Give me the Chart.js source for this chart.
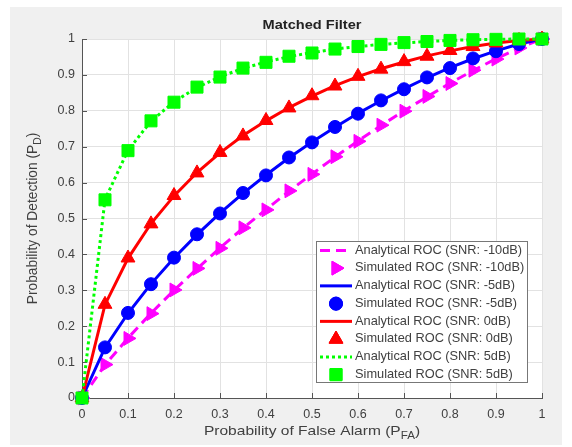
<!DOCTYPE html>
<html><head><meta charset="utf-8">
<script src="https://cdn.jsdelivr.net/npm/chart.js@4/dist/chart.umd.min.js"></script>
<style>html,body{margin:0;padding:0;background:#fff}</style>
</head><body>
<canvas id="c" width="572" height="447" style="display:block;width:572px;height:447px"></canvas>
<script>
// ---- data ----
const pfa = [0,0.05,0.1,0.15,0.2,0.25,0.3,0.35,0.4,0.45,0.5,0.55,0.6,0.65,0.7,0.75,0.8,0.85,0.9,0.95,1];
const anaM10 = [0,0.092,0.167,0.236,0.300,0.360,0.418,0.473,0.525,0.576,0.624,0.671,0.716,0.759,0.800,0.839,0.877,0.912,0.945,0.975,1];
const simM10 = [0,0.093,0.166,0.235,0.301,0.361,0.417,0.474,0.524,0.577,0.623,0.672,0.715,0.760,0.799,0.840,0.876,0.913,0.944,0.975,1];
const anaM5  = [0,0.140,0.236,0.318,0.390,0.455,0.515,0.570,0.621,0.669,0.713,0.754,0.793,0.828,0.861,0.892,0.920,0.945,0.967,0.986,1];
const simM5  = [0,0.141,0.237,0.317,0.391,0.456,0.514,0.571,0.620,0.670,0.712,0.755,0.792,0.829,0.860,0.893,0.919,0.946,0.966,0.986,1];
const ana0   = [0,0.260,0.389,0.486,0.563,0.628,0.683,0.731,0.772,0.809,0.841,0.870,0.895,0.917,0.936,0.953,0.967,0.979,0.989,0.996,1];
const sim0   = [0,0.261,0.390,0.485,0.564,0.627,0.684,0.730,0.773,0.808,0.842,0.869,0.896,0.916,0.937,0.952,0.968,0.979,0.989,0.996,1];
const ana5   = [0,0.553,0.690,0.771,0.825,0.865,0.895,0.918,0.936,0.951,0.962,0.972,0.979,0.985,0.989,0.993,0.996,0.998,0.999,1.000,1];
const sim5   = [0,0.552,0.689,0.772,0.824,0.866,0.894,0.919,0.935,0.952,0.961,0.972,0.979,0.985,0.990,0.993,0.996,0.998,0.999,1.000,1];
const xTicks = [0,0.1,0.2,0.3,0.4,0.5,0.6,0.7,0.8,0.9,1];
const yTicks = [0,0.1,0.2,0.3,0.4,0.5,0.6,0.7,0.8,0.9,1];
const labels = [
  'Analytical ROC (SNR: -10dB)','Simulated ROC (SNR: -10dB)',
  'Analytical ROC (SNR: -5dB)','Simulated ROC (SNR: -5dB)',
  'Analytical ROC (SNR: 0dB)','Simulated ROC (SNR: 0dB)',
  'Analytical ROC (SNR: 5dB)','Simulated ROC (SNR: 5dB)'
];
const titleText = 'Matched Filter';

// ---- styles ----
const FONT = "'Liberation Sans', Arial, Helvetica, sans-serif";
const TXT = '#404040';
const series = [
  {y: anaM10, color:'#ff00ff', line:true, dash:[10,6]},
  {y: simM10, color:'#ff00ff', line:false, style:'triangle', rot:90, r:8},
  {y: anaM5,  color:'#0000ff', line:true, dash:[]},
  {y: simM5,  color:'#0000ff', line:false, style:'circle', rot:0, r:6.5},
  {y: ana0,   color:'#ff0000', line:true, dash:[]},
  {y: sim0,   color:'#ff0000', line:false, style:'triangle', rot:0, r:8},
  {y: ana5,   color:'#00ff00', line:true, dash:[3,3]},
  {y: sim5,   color:'#00ff00', line:false, style:'rect', rot:0, r:8.5}
];
const datasets = series.map((s,i)=>({
  label: labels[i],
  data: pfa.map((x,j)=>({x:x, y:s.y[j]})),
  showLine: s.line,
  borderColor: s.color,
  backgroundColor: s.color,
  borderWidth: s.line ? 3 : 1,
  borderDash: s.dash || [],
  borderCapStyle: 'butt',
  pointRadius: s.line ? 0 : s.r,
  pointHoverRadius: s.line ? 0 : s.r,
  pointStyle: s.style || 'circle',
  pointRotation: s.rot || 0,
  pointBorderWidth: 1,
  pointBorderColor: s.color,
  pointBackgroundColor: s.color,
  tension: 0,
  clip: false,
  order: series.length - i
}));

function drawMarker(ctx, style, rot, r, x, y, color){
  ctx.save();
  ctx.fillStyle = color; ctx.strokeStyle = color; ctx.lineWidth = 1;
  if (Chart.helpers && Chart.helpers.drawPoint) {
    Chart.helpers.drawPoint(ctx, {pointStyle: style, rotation: rot, radius: r, borderWidth: 1}, x, y);
    ctx.fill(); ctx.stroke();
  }
  ctx.restore();
}

function drawSubText(ctx, parts, cx, cy, size, sx){
  sx = sx || 1;
  ctx.save();
  ctx.translate(cx, cy);
  ctx.scale(sx, 1);
  let w = 0;
  parts.forEach(p=>{ ctx.font = (p.sub? size*0.75 : size)+'px '+FONT; p.w = ctx.measureText(p.t).width; w += p.w; });
  let x = -w/2;
  ctx.textBaseline = 'middle'; ctx.textAlign = 'left'; ctx.fillStyle = TXT;
  parts.forEach(p=>{ ctx.font = (p.sub? size*0.75 : size)+'px '+FONT; ctx.fillText(p.t, x, (p.sub? size*0.38 : 0)); x += p.w; });
  ctx.restore();
}

const fmt = v => String(Math.round(v*10)/10);

const deco = {
  id: 'deco',
  beforeDraw(chart){
    const ctx = chart.ctx, a = chart.chartArea;
    ctx.save();
    ctx.fillStyle = '#ffffff'; ctx.fillRect(0,0,chart.width,chart.height);
    ctx.fillStyle = '#f0f0f0'; ctx.fillRect(10,7,552,438);
    ctx.fillStyle = '#ffffff'; ctx.fillRect(a.left, a.top, a.right-a.left, a.bottom-a.top);
    ctx.restore();
  },
  beforeDatasetsDraw(chart){
    const ctx = chart.ctx, a = chart.chartArea, xs = chart.scales.x, ys = chart.scales.y;
    ctx.save();
    ctx.strokeStyle = '#555'; ctx.lineWidth = 1;
    xTicks.forEach(v=>{ const px = Math.round(xs.getPixelForValue(v))+0.5; ctx.beginPath(); ctx.moveTo(px, a.bottom); ctx.lineTo(px, a.bottom-5); ctx.stroke(); });
    yTicks.forEach(v=>{ const py = Math.round(ys.getPixelForValue(v))+0.5; ctx.beginPath(); ctx.moveTo(a.left, py); ctx.lineTo(a.left+5, py); ctx.stroke(); });
    ctx.restore();
  },
  afterDraw(chart){
    const ctx = chart.ctx, a = chart.chartArea;
    ctx.save();
    // title
    ctx.save();
    ctx.translate((a.left+a.right)/2, 25);
    ctx.scale(1.08, 1);
    ctx.font = 'bold 13.5px '+FONT; ctx.fillStyle = '#222'; ctx.textAlign = 'center'; ctx.textBaseline = 'middle';
    ctx.fillText(titleText, 0, 0);
    ctx.restore();
    // x title
    drawSubText(ctx, [{t:'Probability of False Alarm (P'},{t:'FA',sub:true},{t:')'}], (a.left+a.right)/2, 431, 13.5, 1.15);
    // y title
    ctx.save();
    ctx.translate(33, (a.top+a.bottom)/2);
    ctx.rotate(-Math.PI/2);
    drawSubText(ctx, [{t:'Probability of Detection (P'},{t:'D',sub:true},{t:')'}], 0, 0, 13.8, 1);
    ctx.restore();
    // legend
    const L = 316, T = 241, R = 528, B = 383;
    ctx.fillStyle = '#fff'; ctx.fillRect(L, T, R-L, B-T);
    ctx.strokeStyle = '#777'; ctx.lineWidth = 1; ctx.strokeRect(L+0.5, T+0.5, R-L-1, B-T-1);
    const rowH = (B-T)/8;
    series.forEach((s,i)=>{
      const cy = T + rowH*(i+0.5) + 0.5;
      if (s.line) {
        ctx.save(); ctx.strokeStyle = s.color; ctx.lineWidth = 3; ctx.setLineDash(s.dash); ctx.lineCap='butt';
        ctx.beginPath(); ctx.moveTo(320, cy); ctx.lineTo(352, cy); ctx.stroke(); ctx.restore();
      } else {
        drawMarker(ctx, s.style, s.rot, s.r, 336, cy, s.color);
      }
      ctx.save();
      ctx.translate(355, cy); ctx.scale(1.05, 1);
      ctx.font = '12.2px '+FONT; ctx.fillStyle = TXT; ctx.textAlign = 'left'; ctx.textBaseline = 'middle';
      ctx.fillText(labels[i], 0, 0);
      ctx.restore();
    });
    ctx.restore();
  }
};

new Chart(document.getElementById('c'), {
  type: 'scatter',
  data: { datasets },
  options: {
    responsive: false,
    devicePixelRatio: 1,
    animation: false,
    events: [],
    layout: { padding: { top: 39, right: 30, left: 0, bottom: 0 } },
    plugins: { legend: { display: false }, title: { display: false }, tooltip: { enabled: false } },
    scales: {
      x: {
        type: 'linear', min: 0, max: 1,
        afterFit: s => { s.height = 49; },
        afterBuildTicks: s => { s.ticks = xTicks.map(v=>({value:v})); },
        ticks: { color: TXT, font: { family: FONT, size: 12.5 }, padding: 9, maxRotation: 0, autoSkip: false, callback: v => fmt(v) },
        grid: { color: '#e2e2e2', drawTicks: false, lineWidth: 1 },
        border: { display: true, color: '#555', width: 1 }
      },
      y: {
        type: 'linear', min: 0, max: 1,
        afterFit: s => { s.width = 82; },
        afterBuildTicks: s => { s.ticks = yTicks.map(v=>({value:v})); },
        ticks: { color: TXT, font: { family: FONT, size: 12.5 }, padding: 7, autoSkip: false, callback: v => fmt(v) },
        grid: { color: '#e2e2e2', drawTicks: false, lineWidth: 1 },
        border: { display: true, color: '#555', width: 1 }
      }
    }
  },
  plugins: [deco]
});
</script>
</body></html>
